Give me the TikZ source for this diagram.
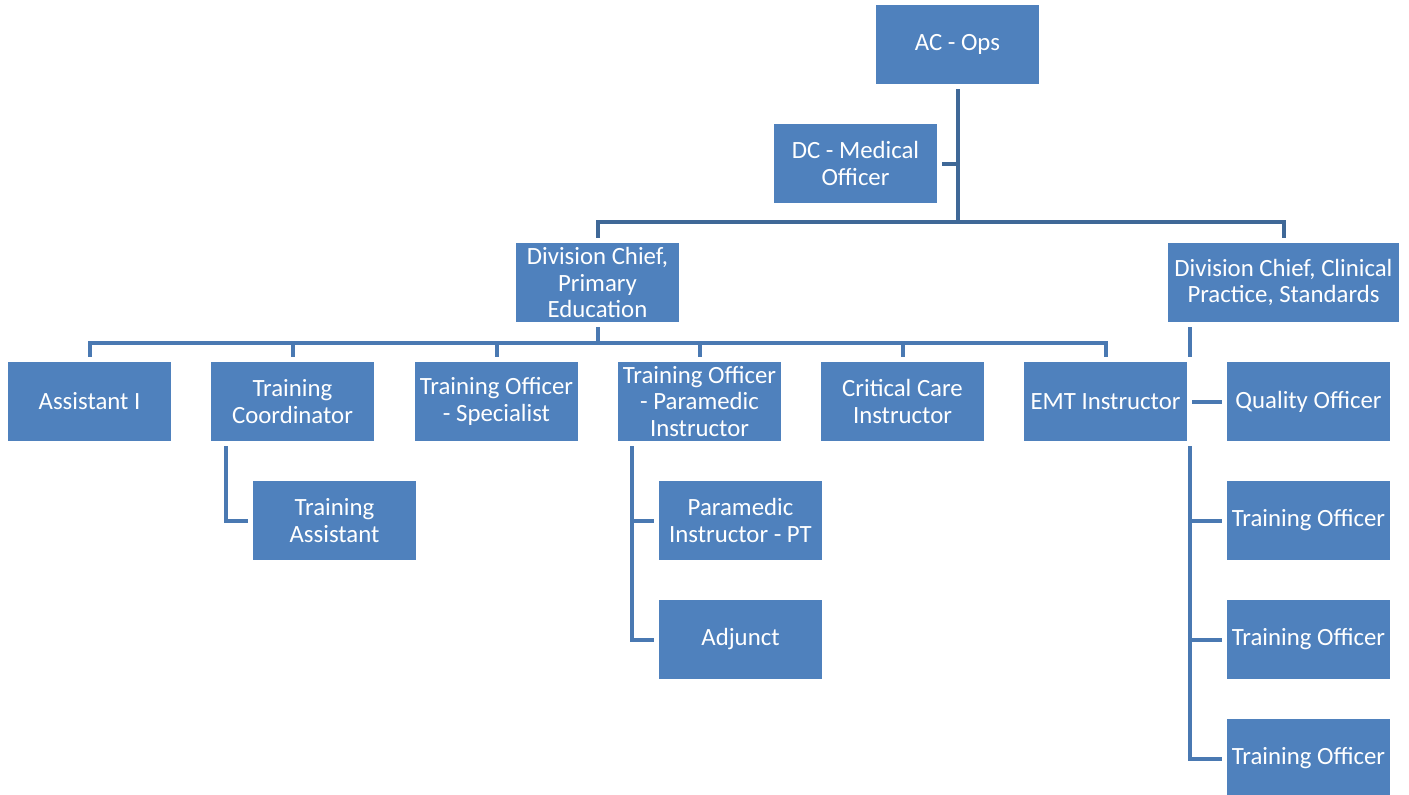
\documentclass[tikz,border=0pt]{standalone}
\usepackage{fontspec}
\setmainfont{Carlito}
\usetikzlibrary{backgrounds}
\definecolor{boxblue}{HTML}{4F81BD}
\definecolor{lineA}{HTML}{3F6897}
\definecolor{lineB}{HTML}{4A79B2}
\tikzset{
  orgbox/.style={rectangle, fill=boxblue, draw=white, line width=2.5pt, inner sep=0pt,
    minimum width=84pt, minimum height=42pt, align=center, text=white,
    font=\fontsize{12.4}{13.25}\selectfont},
  widebox/.style={orgbox, minimum width=118pt},
  connA/.style={draw=lineA, line width=2pt, line join=miter},
  connB/.style={draw=lineB, line width=2pt, line join=miter}
}
\begin{document}
\begin{tikzpicture}[x=0.5pt, y=-0.5pt]
\useasboundingbox (0,0) rectangle (1409,794);
% level 0-1
\node[orgbox] (ac) at (957.5,44.5) {AC - Ops};
\node[orgbox] (dc) at (855.5,163.5) {DC - Medical\\Officer};
\node[orgbox] (dpe) at (597.5,282.5) {Division Chief,\\Primary\\Education};
\node[widebox] (dcp) at (1283.5,282.5) {Division Chief, Clinical\\Practice, Standards};
% level 3
\node[orgbox] (a1) at (89.5,401.5) {Assistant I};
\node[orgbox] (tc) at (292.5,401.5) {Training\\Coordinator};
\node[orgbox] (tos) at (496.5,401.5) {Training Officer\\- Specialist};
\node[orgbox] (topi) at (699.5,401.5) {Training Officer\\- Paramedic\\Instructor};
\node[orgbox] (cci) at (902.5,401.5) {Critical Care\\Instructor};
\node[orgbox] (emt) at (1105.5,401.5) {EMT Instructor};
% level 4
\node[orgbox] (ta) at (334.5,520.5) {Training\\Assistant};
\node[orgbox] (pipt) at (740.5,520.5) {Paramedic\\Instructor - PT};
\node[orgbox] (adj) at (740.5,639.5) {Adjunct};
% clinical children
\node[orgbox] (qo) at (1308.5,401.5) {Quality Officer};
\node[orgbox] (to1) at (1308.5,520.5) {Training Officer};
\node[orgbox] (to2) at (1308.5,639.5) {Training Officer};
\node[orgbox] (to3) at (1308.5,758.5) {Training Officer};
% connector helper coordinates
\coordinate (b1) at (0,222);
\coordinate (b2) at (0,343);
\coordinate (tcx) at (226,0);
\coordinate (pix) at (632,0);
\coordinate (cx) at (1190,0);
\begin{pgfonlayer}{background}
  \draw[connA] (ac.center) -- (ac.center |- b1) -| (dpe.center);
  \draw[connA] (ac.center |- b1) -| (dcp.center);
  \draw[connA] (dc.center) -- (ac.center |- dc.center);
  \foreach \c in {a1,tc,tos,topi,cci,emt}
    \draw[connB] (dpe.center) -- (dpe.center |- b2) -| (\c.center);
  \draw[connB] (tcx |- tc.center) |- (ta.center);
  \draw[connB] (pix |- topi.center) |- (adj.center);
  \draw[connB] (pix |- pipt.center) -- (pipt.center);
  \draw[connB] (cx |- dcp.center) |- (to3.center);
  \draw[connB] (cx |- qo.center) -- (qo.center);
  \draw[connB] (cx |- to1.center) -- (to1.center);
  \draw[connB] (cx |- to2.center) -- (to2.center);
\end{pgfonlayer}
\end{tikzpicture}
\end{document}
